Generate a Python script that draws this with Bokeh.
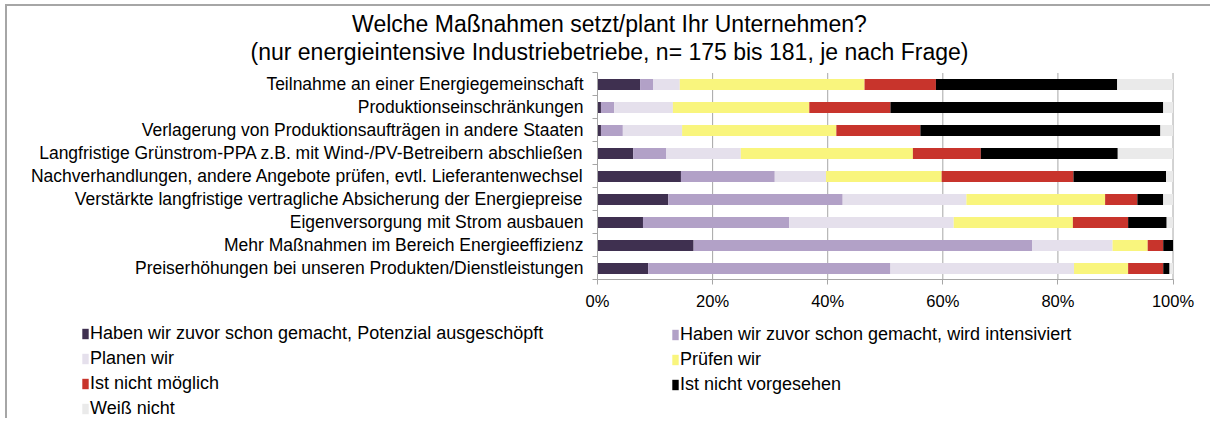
from bokeh.plotting import figure
from bokeh.models import Range1d, FixedTicker, Legend, LegendItem, Label
from bokeh.embed import file_html
from bokeh.resources import INLINE

categories = [
    "Teilnahme an einer Energiegemeinschaft",
    "Produktionseinschränkungen",
    "Verlagerung von Produktionsaufträgen in andere Staaten",
    "Langfristige Grünstrom-PPA z.B. mit Wind-/PV-Betreibern abschließen",
    "Nachverhandlungen, andere Angebote prüfen, evtl. Lieferantenwechsel",
    "Verstärkte langfristige vertragliche Absicherung der Energiepreise",
    "Eigenversorgung mit Strom ausbauen",
    "Mehr Maßnahmen im Bereich Energieeffizienz",
    "Preiserhöhungen bei unseren Produkten/Dienstleistungen",
]

series_names = [
    "Haben wir zuvor schon gemacht, Potenzial ausgeschöpft",
    "Haben wir zuvor schon gemacht, wird intensiviert",
    "Planen wir",
    "Prüfen wir",
    "Ist nicht möglich",
    "Ist nicht vorgesehen",
    "Weiß nicht",
]

ausgeschoepft = [7.4, 0.6, 0.6, 6.2, 14.5, 12.3, 7.9, 16.7, 8.8]
intensiviert  = [2.3, 2.3, 3.8, 5.7, 16.3, 30.3, 25.4, 58.8, 42.1]
planen        = [4.6, 10.2, 10.3, 13.0, 8.9, 21.5, 28.6, 14.0, 31.9]
pruefen       = [32.1, 23.7, 26.8, 29.9, 20.1, 24.1, 20.7, 6.1, 9.4]
nicht_moeglich = [12.4, 14.1, 14.6, 11.8, 22.9, 5.6, 9.6, 2.7, 6.1]
nicht_vorgesehen = [31.5, 47.4, 41.7, 23.8, 16.1, 4.5, 6.7, 1.7, 1.1]
weiss_nicht   = [9.7, 1.7, 2.2, 9.6, 1.2, 1.7, 1.1, 0.0, 0.6]

colors = ["#3F3050", "#B2A1C7", "#E5E0EC", "#F9F57D", "#C8342C", "#000000", "#EAEAEA"]

x_ticks = [0, 20, 40, 60, 80, 100]

title_lines = [
    "Welche Maßnahmen setzt/plant Ihr Unternehmen?",
    "(nur energieintensive Industriebetriebe, n= 175 bis 181, je nach Frage)",
]

all_series = [ausgeschoepft, intensiviert, planen, pruefen,
              nicht_moeglich, nicht_vorgesehen, weiss_nicht]

n = len(categories)
ypos = [n - i - 0.5 for i in range(n)]

FONT = "Liberation Sans"
GRID = "#A6A6A6"
W, H = 1205, 414

# The frame covers the whole canvas; the axes sit at fixed data locations.
p = figure(width=W, height=H, output_backend="svg", toolbar_location=None,
           x_range=Range1d(-102.52, 106.86), y_range=Range1d(-6.109, 11.891),
           min_border=0, min_border_left=0, min_border_right=0,
           min_border_top=0, min_border_bottom=0)
p.styles = {"margin-left": "5px", "margin-top": "4px",
            "border-top": f"2px solid {GRID}", "border-left": f"2px solid {GRID}"}
p.outline_line_color = None
p.grid.visible = False

# vertical grid lines at the x ticks, spanning the category area
p.segment(x0=x_ticks, x1=x_ticks, y0=[0] * len(x_ticks), y1=[n] * len(x_ticks),
          line_color=GRID, line_width=1)

left = [0.0] * n
renderers = []
for vals, col in zip(all_series, colors):
    right = [l + v for l, v in zip(left, vals)]
    r = p.hbar(y=ypos, left=left, right=right, height=0.48, fill_color=col,
               line_color=None)
    renderers.append(r)
    left = right

# x axis
xa = p.xaxis[0]
xa.fixed_location = 0
xa.bounds = (0, 100)
xa.ticker = FixedTicker(ticks=x_ticks)
xa.major_label_overrides = {t: f"{t}%" for t in x_ticks}
xa.axis_line_color = GRID
xa.major_tick_line_color = GRID
xa.major_tick_out = 5
xa.major_tick_in = 0
xa.minor_tick_line_color = None
xa.major_label_standoff = 7
xa.major_label_text_font = FONT
xa.major_label_text_font_size = "16.5px"
xa.major_label_text_color = "#000000"

# y axis: category labels at row centres, tick marks between rows
ya = p.yaxis[0]
ya.fixed_location = 0
ya.bounds = (0, n)
ya.ticker = FixedTicker(ticks=ypos, minor_ticks=list(range(n + 1)))
ya.major_label_overrides = {y: c for y, c in zip(ypos, categories)}
ya.axis_line_color = GRID
ya.major_tick_line_color = None
ya.major_tick_out = 0
ya.major_tick_in = 0
ya.minor_tick_line_color = GRID
ya.minor_tick_out = 5
ya.minor_tick_in = 0
ya.major_label_standoff = 9
ya.major_label_text_font = FONT
ya.major_label_text_font_size = "17.5px"
ya.major_label_text_color = "#000000"

# title
p.add_layout(Label(x=602, y=H - 17, x_units="screen", y_units="screen", text=title_lines[0],
                   text_align="center", text_baseline="middle", text_font=FONT,
                   text_font_size="23px", text_color="#000000"))
p.add_layout(Label(x=602, y=H - 45, x_units="screen", y_units="screen", text=title_lines[1],
                   text_align="center", text_baseline="middle", text_font=FONT,
                   text_font_size="23px", text_color="#000000"))


def make_legend(idx, loc):
    items = [LegendItem(label=series_names[i], renderers=[renderers[i]]) for i in idx]
    return Legend(items=items, location=loc, orientation="vertical",
                  glyph_width=8, glyph_height=13, label_standoff=1,
                  label_height=20, spacing=4, padding=0, margin=0,
                  border_line_color=None, background_fill_alpha=0,
                  label_text_font=FONT, label_text_font_size="18px",
                  label_text_color="#000000")


p.add_layout(make_legend([0, 2, 4, 6], (74, 1)))
p.add_layout(make_legend([1, 3, 5], (664, 25)))

open("out.html", "w").write(file_html(p, INLINE))
